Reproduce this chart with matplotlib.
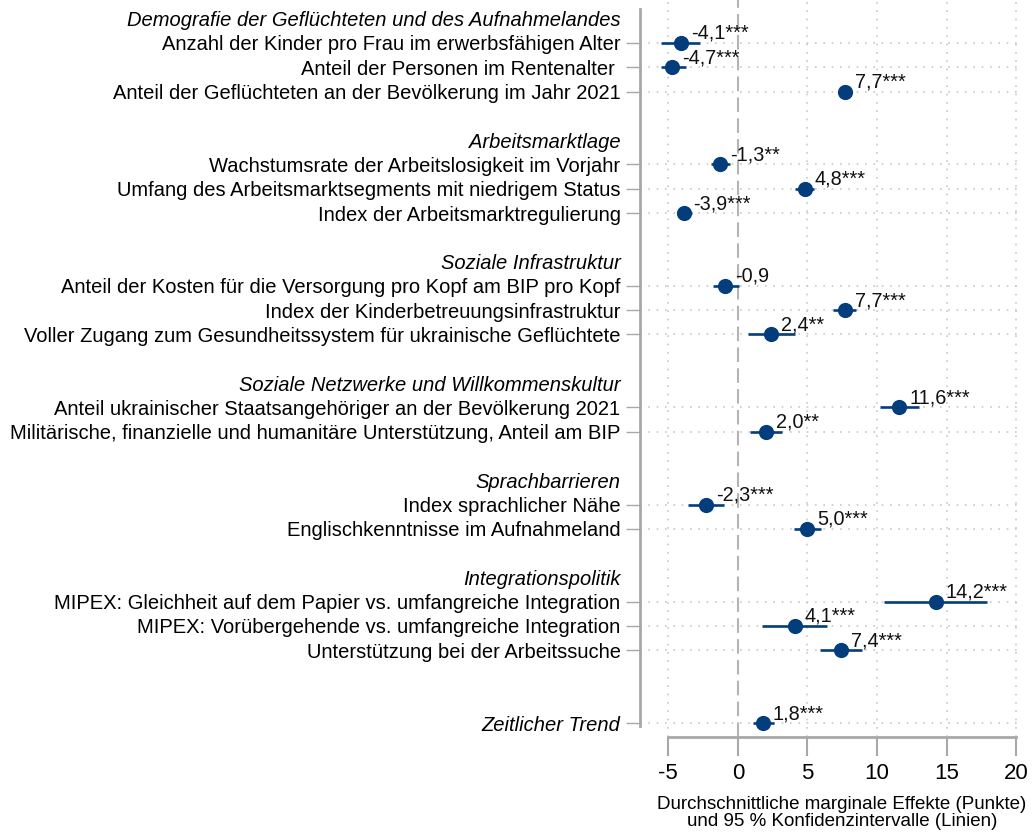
import numpy as np
import matplotlib.pyplot as plt

plt.rcParams['font.family'] = ['Liberation Sans', 'DejaVu Sans']
plt.rcParams['axes.unicode_minus'] = False

# Gruppen (kursiv) und ihre Variablen
headings = ['Demografie der Geflüchteten und des Aufnahmelandes',
            'Arbeitsmarktlage',
            'Soziale Infrastruktur',
            'Soziale Netzwerke und Willkommenskultur',
            'Sprachbarrieren',
            'Integrationspolitik']
group_sizes = [3, 3, 3, 2, 2, 3]

row_labels = ['Anzahl der Kinder pro Frau im erwerbsfähigen Alter',
              'Anteil der Personen im Rentenalter ',
              'Anteil der Geflüchteten an der Bevölkerung im Jahr 2021',
              'Wachstumsrate der Arbeitslosigkeit im Vorjahr',
              'Umfang des Arbeitsmarktsegments mit niedrigem Status',
              'Index der Arbeitsmarktregulierung',
              'Anteil der Kosten für die Versorgung pro Kopf am BIP pro Kopf',
              'Index der Kinderbetreuungsinfrastruktur',
              'Voller Zugang zum Gesundheitssystem für ukrainische Geflüchtete',
              'Anteil ukrainischer Staatsangehöriger an der Bevölkerung 2021',
              'Militärische, finanzielle und humanitäre Unterstützung, Anteil am BIP',
              'Index sprachlicher Nähe',
              'Englischkenntnisse im Aufnahmeland',
              'MIPEX: Gleichheit auf dem Papier vs. umfangreiche Integration',
              'MIPEX: Vorübergehende vs. umfangreiche Integration',
              'Unterstützung bei der Arbeitssuche',
              'Zeitlicher Trend']

effects = [-4.1, -4.7, 7.7, -1.3, 4.8, -3.9, -0.9, 7.7, 2.4,
           11.6, 2.0, -2.3, 5.0, 14.2, 4.1, 7.4, 1.8]
ci_low = [-5.5, -5.5, 7.4, -1.9, 4.1, -4.4, -1.8, 6.8, 0.7,
          10.2, 0.9, -3.6, 4.0, 10.5, 1.7, 5.9, 1.1]
ci_high = [-2.7, -3.7, 8.0, -0.6, 5.5, -3.3, 0.1, 8.5, 4.1,
           13.0, 3.2, -1.0, 6.0, 17.9, 6.4, 8.9, 2.6]
stars = ['***', '***', '***', '**', '***', '***', '', '***', '**',
         '***', '**', '***', '***', '***', '***', '***', '***']

xticks = [-5, 0, 5, 10, 15, 20]

# y-Positionen: Überschrift, Zeilen, Leerzeile
heading_pos = []
row_pos = []
pos = 0
for n in group_sizes:
    heading_pos.append(pos)
    row_pos.extend(range(pos + 1, pos + 1 + n))
    pos += n + 2
row_pos.append(pos + 1)  # Zeitlicher Trend

blue = '#033d7c'
gray = '#a8a8a8'

fig = plt.figure(figsize=(10.35, 8.32), dpi=100)
ax = fig.add_axes([0.6184, 0.1142, 0.3671, 0.8858])

ax.set_xlim(-7.03, 20.27)
ax.set_ylim(29.57, -0.77)

# Gitter
for x in xticks:
    if x == 0:
        ax.axvline(0, color='#b4b4b4', lw=1.5, ls=(0, (7, 3)), zorder=1)
    else:
        ax.axvline(x, color='#c8c8c8', lw=1.2, ls=(0, (1, 4)), zorder=1)
for y in row_pos:
    ax.axhline(y, color='#c8c8c8', lw=1.2, ls=(0, (1, 4)), zorder=1)

# Konfidenzintervalle und Punkte
ax.hlines(row_pos, ci_low, ci_high, color=blue, lw=1.9, zorder=2)
ax.scatter(effects, row_pos, s=120, color=blue, zorder=3, linewidths=0)

for x, y, s in zip(effects, row_pos, stars):
    txt = f'{x:.1f}'.replace('.', ',') + s
    ax.annotate(txt, (x, y), xytext=(10, 4), textcoords='offset pixels',
                ha='left', va='baseline', fontsize=14.3, color='#111111')

# Achsen
all_pos = heading_pos + row_pos
all_labels = headings + row_labels
ax.set_yticks(all_pos)
ax.set_yticklabels(all_labels, fontsize=14.5)
ax.tick_params(axis='y', length=10, width=1, color=gray, pad=4)
n_head = len(headings)
for i, t in enumerate(ax.yaxis.get_major_ticks()):
    if i < n_head:
        t.tick1line.set_visible(False)
        t.label1.set_fontstyle('italic')
    elif i == len(all_pos) - 1:
        t.label1.set_fontstyle('italic')

ax.set_xticks(xticks)
ax.set_xticklabels([str(x) for x in xticks], fontsize=16)
ax.tick_params(axis='x', length=14, width=1.5, color=gray, pad=5)

for side in ['top', 'right']:
    ax.spines[side].set_visible(False)
ax.spines['left'].set_color(gray)
ax.spines['left'].set_linewidth(2)
ax.spines['left'].set_bounds(-0.4, 29.1)
ax.spines['bottom'].set_color(gray)
ax.spines['bottom'].set_linewidth(2)
ax.spines['bottom'].set_bounds(-5, 20)

fig.text(0.8135, 0.003, 'Durchschnittliche marginale Effekte (Punkte)\n'
         'und 95 % Konfidenzintervalle (Linien)',
         ha='center', va='bottom', fontsize=13.5, linespacing=1.0)

fig.savefig('out.png', dpi=100)
